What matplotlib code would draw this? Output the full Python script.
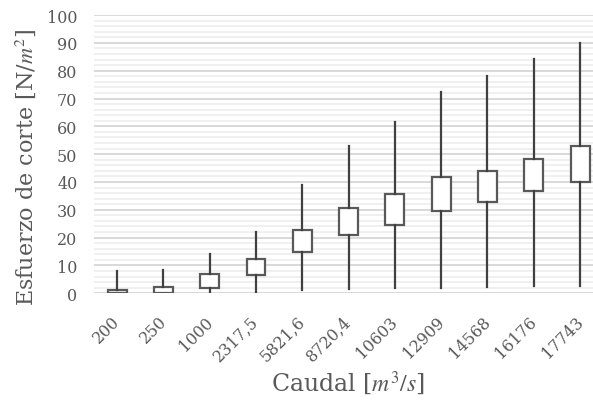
import matplotlib
matplotlib.use('Agg')
import matplotlib.pyplot as plt
import matplotlib.transforms as mtransforms
from matplotlib.ticker import MultipleLocator

# caudal categories and shear stress summaries [N/m2]
caudales = ['200', '250', '1000', '2317,5', '5821,6', '8720,4',
            '10603', '12909', '14568', '16176', '17743']
minimos = [0.0, 0.0, 0.3, 0.3, 1.2, 1.5, 1.8, 2.0, 2.1, 2.5, 2.5]
q1 = [0.0, 0.0, 1.9, 6.5, 14.9, 20.8, 24.7, 29.6, 32.8, 36.7, 40.1]
q3 = [1.2, 2.1, 6.8, 12.2, 22.8, 30.7, 35.7, 41.8, 43.9, 48.4, 52.9]
maximos = [8.0, 8.5, 14.1, 21.9, 38.8, 52.8, 61.6, 72.3, 78.1, 84.2, 89.8]

gris = '#595959'
plt.rcParams['font.family'] = ['DejaVu Serif']
plt.rcParams['mathtext.fontset'] = 'stix'

fig = plt.figure(figsize=(5.93, 4.02), dpi=100)
ax = fig.add_axes([0.1585, 0.268, 0.8415, 0.692])

stats = []
for i in range(len(caudales)):
    stats.append({'whislo': minimos[i], 'q1': q1[i], 'med': q1[i],
                  'q3': q3[i], 'whishi': maximos[i]})

ax.bxp(stats, positions=range(len(caudales)), widths=0.41,
       showcaps=False, showfliers=False, patch_artist=True,
       boxprops=dict(facecolor='white', edgecolor=gris, linewidth=1.6),
       whiskerprops=dict(color='#404040', linewidth=1.6),
       medianprops=dict(visible=False))

ax.set_xlim(-0.5, 10.28)
ax.set_ylim(0, 100)
ax.yaxis.set_major_locator(MultipleLocator(10))
ax.yaxis.set_minor_locator(MultipleLocator(2))
ax.grid(True, which='major', axis='y', color='#d9d9d9', linewidth=1.4)
ax.grid(True, which='minor', axis='y', color='#f0f0f0', linewidth=1.4)
ax.set_axisbelow(True)
for s in ax.spines.values():
    s.set_visible(False)

ax.set_xticks(range(len(caudales)))
ax.set_xticklabels(caudales, rotation=45, ha='right', rotation_mode='anchor')
ax.tick_params(axis='both', which='both', length=0, labelsize=11.5, labelcolor=gris)
ax.tick_params(axis='x', pad=14)
ax.tick_params(axis='y', pad=12)

# nudge rotated labels a little to the left
shift = mtransforms.ScaledTranslation(-4 / 72, 0, fig.dpi_scale_trans)
for lbl in ax.get_xticklabels():
    lbl.set_transform(lbl.get_transform() + shift)

ax.set_ylabel('Esfuerzo de corte [N/$m^2$]', fontsize=16, color=gris)
ax.yaxis.set_label_coords(-0.112, 0.457)
ax.set_xlabel('Caudal [$m^3/s$]', fontsize=17, color=gris)
ax.xaxis.set_label_coords(0.509, -0.268)

fig.savefig('out.png', dpi=100)
